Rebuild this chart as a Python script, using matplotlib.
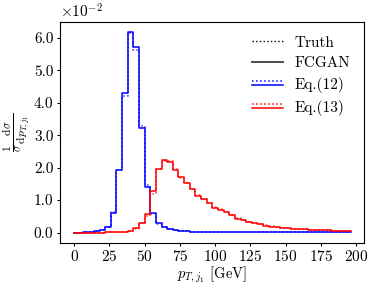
import numpy as np
import matplotlib
matplotlib.use('Agg')
import matplotlib.pyplot as plt
from matplotlib.lines import Line2D
from matplotlib.legend_handler import HandlerBase
from matplotlib.ticker import ScalarFormatter

plt.rcParams['font.family'] = 'serif'
plt.rcParams['font.serif'] = ['cmr10']
plt.rcParams['mathtext.fontset'] = 'cm'
plt.rcParams['axes.formatter.use_mathtext'] = True
plt.rcParams['font.size'] = 11

# bin centres in GeV, values in units of 1e-2
pt_centres = np.arange(0, 200, 4)

fcgan_eq12 = [0.00, 0.00, 0.01, 0.02, 0.04, 0.08, 0.17, 0.60, 1.93, 4.29,
              6.18, 5.73, 3.23, 1.40, 0.60, 0.28, 0.18, 0.11, 0.07, 0.05,
              0.04, 0.03, 0.03, 0.02, 0.02, 0.02, 0.02, 0.02, 0.01, 0.01,
              0.01, 0.01, 0.01, 0.01, 0.01, 0.01, 0.01, 0.01, 0.01, 0.01,
              0.01, 0.01, 0.01, 0.01, 0.01, 0.01, 0.01, 0.01, 0.01, 0.01]
truth_eq12 = [0.00, 0.00, 0.01, 0.02, 0.04, 0.08, 0.18, 0.62, 1.92, 4.22,
              6.14, 5.64, 3.28, 1.46, 0.58, 0.27, 0.17, 0.11, 0.07, 0.05,
              0.04, 0.03, 0.03, 0.02, 0.02, 0.02, 0.02, 0.01, 0.01, 0.01,
              0.01, 0.01, 0.01, 0.01, 0.01, 0.01, 0.01, 0.01, 0.01, 0.01,
              0.01, 0.01, 0.01, 0.01, 0.01, 0.01, 0.01, 0.01, 0.01, 0.01]
fcgan_eq13 = [0.00, 0.00, 0.00, 0.00, 0.00, 0.00, 0.01, 0.01, 0.01, 0.02,
              0.05, 0.13, 0.30, 0.56, 1.27, 1.96, 2.23, 2.18, 1.93, 1.70,
              1.53, 1.33, 1.13, 1.03, 0.90, 0.77, 0.70, 0.63, 0.53, 0.43,
              0.38, 0.33, 0.28, 0.25, 0.21, 0.18, 0.16, 0.15, 0.13, 0.12,
              0.11, 0.10, 0.09, 0.08, 0.07, 0.07, 0.06, 0.06, 0.05, 0.05]
truth_eq13 = [0.00, 0.00, 0.00, 0.00, 0.00, 0.00, 0.01, 0.01, 0.01, 0.02,
              0.05, 0.12, 0.28, 0.50, 1.20, 1.95, 2.21, 2.21, 1.96, 1.69,
              1.52, 1.34, 1.15, 1.02, 0.91, 0.79, 0.71, 0.62, 0.54, 0.44,
              0.39, 0.33, 0.29, 0.25, 0.22, 0.19, 0.17, 0.15, 0.14, 0.12,
              0.11, 0.10, 0.09, 0.08, 0.08, 0.07, 0.06, 0.06, 0.05, 0.05]


class PairHandler(HandlerBase):
	# dotted line drawn just above a solid line
	def create_artists(self, legend, orig_handle, xdescent, ydescent, width, height, fontsize, trans):
		c = orig_handle.get_color()
		y = (height - ydescent) / 2.
		xs = [-xdescent, width - xdescent]
		top = Line2D(xs, [y + 1.6, y + 1.6], color=c, ls=':', lw=1.1, transform=trans)
		bot = Line2D(xs, [y - 1.2, y - 1.2], color=c, ls='-', lw=1.1, transform=trans)
		return [top, bot]


class OneDecimal(ScalarFormatter):
	def _set_format(self):
		self.format = '%1.1f'


fig = plt.figure(figsize=(3.68, 2.83), dpi=100)
ax = fig.add_axes([0.164, 0.143, 0.826, 0.779])

scale = 1e-2
ax.step(pt_centres, np.array(fcgan_eq12) * scale, where='mid', color='#0000ff', lw=1.1)
ax.step(pt_centres, np.array(truth_eq12) * scale, where='mid', color='#0000ff', ls=':', lw=1.1, alpha=0.8)
ax.step(pt_centres, np.array(fcgan_eq13) * scale, where='mid', color='#ff0000', lw=1.1)
ax.step(pt_centres, np.array(truth_eq13) * scale, where='mid', color='#ff0000', ls=':', lw=1.1, alpha=0.8)

ax.set_xticks([0, 25, 50, 75, 100, 125, 150, 175, 200])
ax.set_yticks([0, 0.01, 0.02, 0.03, 0.04, 0.05, 0.06])
ax.tick_params(labelsize=11, pad=2.5, length=2.5)
fmt = OneDecimal(useMathText=True)
fmt.set_powerlimits((0, 0))
ax.yaxis.set_major_formatter(fmt)

ax.set_xlabel(r'$p_{T,j_1}$ [GeV]', labelpad=0, fontsize=10.5)
ax.set_ylabel(r'$\frac{1}{\sigma}\frac{\mathrm{d}\sigma}{\mathrm{d}p_{T,j_1}}$', labelpad=1, fontsize=12)

h_truth = Line2D([], [], color='k', ls=':', lw=1.0)
h_fcgan = Line2D([], [], color='0.3', ls='-', lw=1.4)
h_12 = Line2D([], [], color='#0000ff')
h_13 = Line2D([], [], color='#ff0000')
ax.legend([h_truth, h_fcgan, h_12, h_13], ['Truth', 'FCGAN', 'Eq.(12)', 'Eq.(13)'],
          handler_map={h_12: PairHandler(), h_13: PairHandler()},
          loc='upper right', frameon=False, fontsize=11, handlelength=2.0,
          labelspacing=0.45)

fig.savefig('out.png', dpi=100)
